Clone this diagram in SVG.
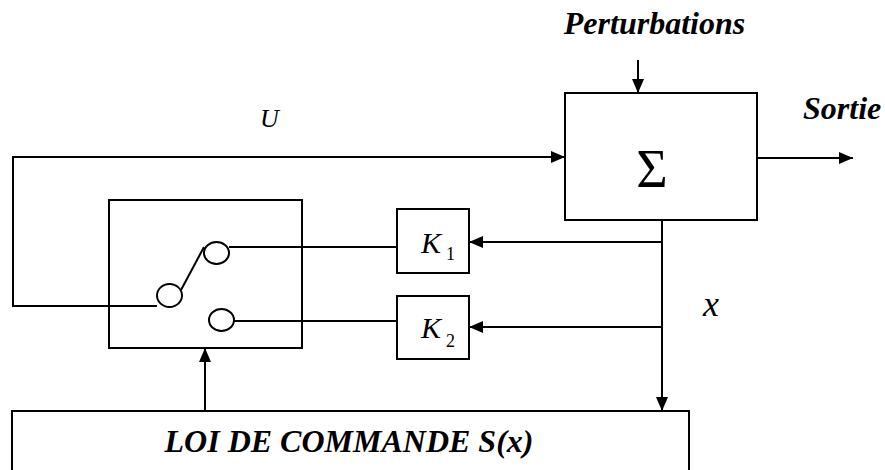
<svg xmlns="http://www.w3.org/2000/svg" width="885" height="470" viewBox="0 0 885 470">
<style>
.ln{fill:none;stroke:#000;stroke-width:2}
.box{fill:#fff;stroke:#000;stroke-width:2}
text{font-family:'Liberation Serif','Tinos','DejaVu Serif',serif;fill:#000}
.bi{font-weight:bold;font-style:italic;font-size:32px}
.it{font-style:italic}
</style>
<defs>
<marker id="ah" viewBox="0 0 14 12" refX="14" refY="6" markerWidth="14" markerHeight="12" markerUnits="userSpaceOnUse" orient="auto">
<path d="M0,0 L14,6 L0,12 Z" fill="#000"/>
</marker>
</defs>
<rect width="885" height="470" fill="#fff"/>
<g id="connectors">
<polyline class="ln" points="157,306 13,306 13,157 565,157" marker-end="url(#ah)"/>
<line class="ln" x1="638" y1="60" x2="638" y2="93" marker-end="url(#ah)"/>
<line class="ln" x1="757" y1="158" x2="853" y2="158" marker-end="url(#ah)"/>
<line class="ln" x1="662" y1="220" x2="662" y2="411" marker-end="url(#ah)"/>
<line class="ln" x1="662" y1="242" x2="469" y2="242" marker-end="url(#ah)"/>
<line class="ln" x1="662" y1="327" x2="469" y2="327" marker-end="url(#ah)"/>
<line class="ln" x1="397" y1="247" x2="229" y2="247"/>
<line class="ln" x1="397" y1="321" x2="234" y2="321"/>
<line class="ln" x1="205" y1="411" x2="205" y2="348" marker-end="url(#ah)"/>
</g>
<g id="switch">
<rect class="ln" x="109" y="200" width="193" height="148"/>
<ellipse class="ln" cx="216.5" cy="253" rx="12.5" ry="11"/>
<ellipse class="ln" cx="169.5" cy="295.5" rx="12.5" ry="11.5"/>
<ellipse class="ln" cx="221.5" cy="320" rx="12.5" ry="11"/>
<line class="ln" x1="181" y1="290" x2="204" y2="247"/>
</g>
<g id="sum">
<rect class="box" x="565" y="93" width="192" height="127"/>
<text x="652" y="187" font-size="54" text-anchor="middle">Σ</text>
</g>
<g id="k1">
<rect class="box" x="397" y="209" width="72" height="64"/>
<text class="it" x="421" y="253" font-size="30">K</text>
<text x="446" y="260" font-size="18">1</text>
</g>
<g id="k2">
<rect class="box" x="397" y="296" width="72" height="63"/>
<text class="it" x="421" y="338" font-size="30">K</text>
<text x="446" y="347" font-size="18">2</text>
</g>
<g id="loi">
<rect class="box" x="12" y="411" width="677" height="80"/>
<text class="bi" x="349" y="452" text-anchor="middle">LOI DE COMMANDE S(x)</text>
</g>
<g id="labels">
<text class="bi" x="654.5" y="34" text-anchor="middle">Perturbations</text>
<text class="bi" x="803" y="119">Sortie</text>
<text class="it" x="260" y="127" font-size="26">U</text>
<text class="it" x="703" y="316" font-size="36">x</text>
</g>
</svg>
